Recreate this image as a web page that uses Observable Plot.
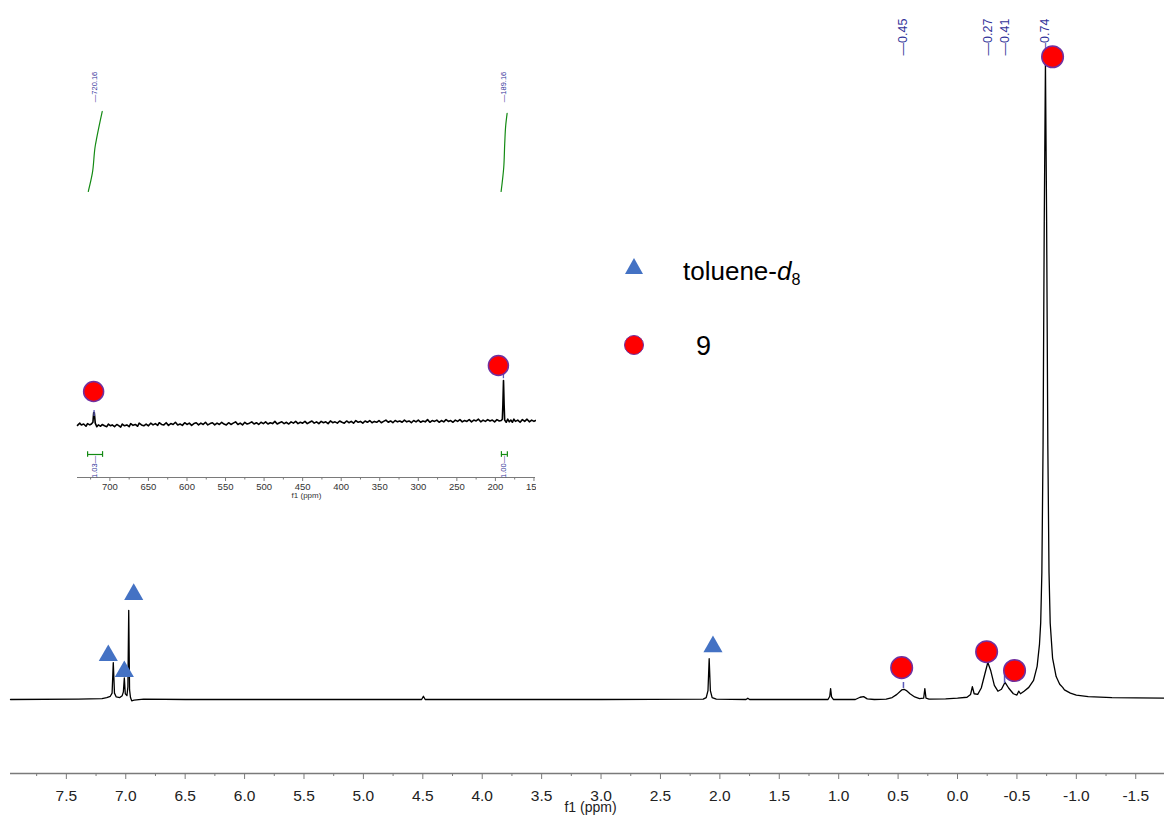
<!DOCTYPE html>
<html><head><meta charset="utf-8">
<script src="https://cdn.jsdelivr.net/npm/d3@7"></script>
<script src="https://cdn.jsdelivr.net/npm/@observablehq/plot@0.6"></script>
<style>
body{margin:0;background:#fff;font-family:"Liberation Sans",Arial,sans-serif;}
#wrap{position:relative;width:1164px;height:816px;overflow:hidden;background:#fff;}
#main{position:absolute;left:0;top:0;}
#inset{position:absolute;left:0;top:0;width:536px;height:500px;overflow:hidden;}
#main svg,#inset svg{max-width:none !important;width:1164px;height:816px;}
.leg{position:absolute;color:#000;font-family:"Liberation Sans",Arial,sans-serif;white-space:nowrap;line-height:1;}
.tri{position:absolute;width:0;height:0;border-left:9.5px solid transparent;border-right:9.5px solid transparent;border-bottom:16px solid #4472c4;}
.circ{position:absolute;width:18px;height:18px;border-radius:50%;background:#ff0000;border:1.5px solid #7030a0;}
sub{font-size:0.62em;vertical-align:baseline;position:relative;top:0.28em;}
</style></head><body>
<div id="wrap">
  <div id="main"></div>
  <div id="inset"></div>
  <div class="tri" style="left:624.5px;top:258px;"></div>
  <div class="leg" style="left:683px;top:258px;font-size:26px;">toluene-<i>d</i><sub>8</sub></div>
  <div class="circ" style="left:624px;top:335px;"></div>
  <div class="leg" style="left:696px;top:333px;font-size:27px;">9</div>
</div>
<script>
// ---------- Main 1H spectrum data (ppm, intensity; tallest peak = 100) ----------
const mainSpectrum = [
  [7.97,0],[7.4,0.05],[7.2,0.15],[7.16,0.3],[7.13,0.5],[7.115,1.0],[7.105,5.8],[7.095,1.0],
  [7.08,0.4],[7.05,0.3],[7.03,0.6],[7.02,1.2],[7.012,3.4],[7.004,0.9],[6.99,0.6],[6.982,2],
  [6.975,14.0],[6.968,1.5],[6.96,0.3],[6.95,-0.2],[6.93,-0.1],[6.85,0.05],[6.5,0],[5.0,0],
  [4.51,0],[4.495,0.5],[4.48,0],[3.0,0],[2.14,0.05],[2.115,0.3],[2.10,1.4],[2.09,6.4],
  [2.08,1.4],[2.065,0.3],[2.03,0.05],[1.78,0],[1.765,0.2],[1.75,0],[1.09,0],[1.075,0.5],
  [1.068,1.7],[1.06,0.4],[1.045,0],[0.86,0],[0.82,0.35],[0.79,0.45],[0.76,0.1],[0.70,0],
  [0.60,0.05],[0.55,0.3],[0.51,0.8],[0.47,1.5],[0.45,1.6],[0.43,1.4],[0.40,0.9],[0.36,0.4],
  [0.32,0.15],[0.285,0.2],[0.275,1.7],[0.265,0.2],[0.24,0.05],[0.10,0.1],[0.0,0.2],
  [-0.08,0.35],[-0.11,0.8],[-0.125,2.0],[-0.14,0.9],[-0.17,0.8],[-0.20,1.8],[-0.23,4.0],
  [-0.255,5.8],[-0.28,4.5],[-0.31,2.2],[-0.34,1.3],[-0.37,1.6],[-0.40,2.7],[-0.43,1.8],
  [-0.47,0.9],[-0.50,0.7],[-0.515,1.3],[-0.53,0.9],[-0.56,1.3],[-0.60,1.9],[-0.64,3.0],
  [-0.67,5.2],[-0.69,8.7],[-0.70,12],[-0.71,20],[-0.72,40],[-0.73,75],[-0.74,100],
  [-0.75,75],[-0.76,40],[-0.77,20],[-0.78,12],[-0.80,6.5],[-0.83,3.6],[-0.86,2.4],
  [-0.885,1.9],[-0.90,1.5],[-0.95,1.0],[-1.0,0.7],[-1.1,0.45],[-1.3,0.3],[-1.5,0.25],[-1.742,0.2]
];
const mainMajorTicks = [7.5,7.0,6.5,6.0,5.5,5.0,4.5,4.0,3.5,3.0,2.5,2.0,1.5,1.0,0.5,0.0,-0.5,-1.0,-1.5];
const mainMinorTicks = [7.75,7.25,6.75,6.25,5.75,5.25,4.75,4.25,3.75,3.25,2.75,2.25,1.75,1.25,0.75,0.25,-0.25,-0.75,-1.25];
const peakLabelPpm = [0.455,-0.26,-0.40,-0.74];
const peakLabelText = ["—0.45","—0.27","—0.41","—0.74"];
const peakTopLevel = 101.1;
const tolueneMarks = [[7.147,6.9],[7.012,4.4],[6.933,16.5],[2.058,8.3]];
const compound9Marks = [[-0.80,100.9],[0.47,5.0],[-0.245,7.5],[-0.48,4.55]];
const mainPickTicks = [[0.455,1.73,2.67],[-0.396,2.5,4.1]];

// ---------- Inset (wide range) data ----------
const insetSpectrum = [
  [742,-2],[739,3],[737,-1],[734,1],[731,-4],[729,2],[726,-1],[724,1],[722,5],[721,27],[720.2,27],[719,3],
  [717,-5],[715,-1],[712,-4],[710,0],[707,-3],[704,-5],[702,1],[699,-3],[697,-1],[694,-5],[691,0],[689,-2],
  [686,-6],[684,1],[681,-3],[678,-1],[675,-5],[673,2],[670,-2],[667,0],[664,-4],[662,3],[659,-1],[656,-3],
  [653,1],[650,-3],[647,3],[644,-1],[641,2],[638,-2],[636,4],[633,0],[630,-1],[627,4],[624,-2],[621,2],
  [618,0],[615,5],[612,-1],[609,1],[606,-2],[603,4],[600,0],[597,3],[594,-2],[591,2],[588,4],[585,-1],
  [582,3],[579,0],[576,5],[573,-1],[570,2],[567,4],[564,-1],[561,3],[558,0],[555,5],[552,1],[549,-1],
  [546,4],[543,0],[540,3],[537,6],[534,0],[531,3],[528,-1],[525,5],[522,1],[519,3],[516,6],[513,1],
  [510,4],[507,0],[504,5],[501,2],[498,6],[495,1],[492,4],[489,2],[486,7],[483,1],[480,4],[477,6],
  [474,2],[471,5],[468,1],[465,6],[462,3],[459,7],[456,2],[453,5],[450,3],[447,7],[444,2],[441,5],
  [438,8],[435,3],[432,6],[429,2],[426,7],[423,4],[420,6],[417,2],[414,8],[411,4],[408,6],[405,3],
  [402,8],[399,5],[396,3],[393,8],[390,4],[387,7],[384,3],[381,9],[378,5],[375,7],[372,3],[369,8],
  [366,5],[363,9],[360,4],[357,7],[354,5],[351,9],[348,4],[345,7],[342,10],[339,5],[336,8],[333,4],
  [330,9],[327,6],[324,8],[321,5],[318,10],[315,6],[312,8],[309,4],[306,9],[303,6],[300,10],[297,5],
  [294,8],[291,6],[288,11],[285,5],[282,9],[279,7],[276,10],[273,5],[270,9],[267,6],[264,11],[261,7],
  [258,9],[255,5],[252,10],[249,7],[246,11],[243,6],[240,9],[237,7],[234,11],[231,6],[228,10],[225,8],
  [222,12],[219,6],[216,10],[213,7],[210,11],[207,8],[204,10],[201,6],[198,11],[195,8],[192.5,9],[191,12],
  [190.3,45],[189.5,100],[188.7,45],[188,10],[186,5],[184,12],[182,6],[180,10],[178,5],[176,12],[174,7],
  [171,10],[168,5],[165,11],[162,7],[159,12],[156,6],[153,10],[150,7],[148,9]
];
const insetMajorTicks = [700,650,600,550,500,450,400,350,300,250,200,150];
const insetMinorTicks = [725,675,625,575,525,475,425,375,325,275,225,175];
const integralCurve1 = [[728.0,529.5],[722.8,570.5],[718.9,634],[717.2,650],[709.9,711.4]];
const integralCurve2 = [[192.6,529.5],[189.2,584],[187.9,639],[186.6,680],[184.8,707]];
const integralRanges = [[728.9,709.5],[192.2,184.5]];
const integralValues = ["1.03—","1.00—"];
const integralLabelPpm = [719.4,189.2];
const integralLevel = -68.2;
const insetPeakPpm = [720.16,189.16];
const insetPeakText = ["—720.16","—189.16"];
const insetPeakLevel = 732.5;
const insetCircles = [[721.1,75],[196.1,134]];
const insetPickTicks = [[720.5,18,32],[189.6,104,118]];

const FONT = '"Liberation Sans", Arial, sans-serif';
const NAVY = "#34349a";
const GREEN = "#138a13";

// ---------- Main plot ----------
const mainY = [-11.62, 109.73];
const mainPlot = Plot.plot({
  width: 1164, height: 816,
  marginLeft: 10, marginRight: 0, marginTop: 0, marginBottom: 43,
  x: {domain: [7.97, -1.742], axis: null},
  y: {domain: mainY, axis: null},
  style: {background: "transparent", fontFamily: FONT, color: "#222", maxWidth: "none"},
  marks: [
    Plot.ruleY([mainY[0]], {stroke: "#7a7a7a", strokeWidth: 1.4}),
    Plot.axisX({ticks: mainMajorTicks, tickSize: 6, tickPadding: 10, tickFormat: d => d.toFixed(1),
      stroke: "#7a7a7a", fill: "#222", fontSize: 15.5, label: null}),
    Plot.axisX({ticks: mainMinorTicks, tickSize: 3, tickFormat: () => "", stroke: "#7a7a7a", label: null}),
    Plot.text(["f1 (ppm)"], {frameAnchor: "bottom", dx: 3, dy: 38, fontSize: 14, fill: "#222"}),
    Plot.line(mainSpectrum, {x: d => d[0], y: d => d[1], stroke: "#000", strokeWidth: 1.3}),
    Plot.ruleX(mainPickTicks, {x: d => d[0], y1: d => d[1], y2: d => d[2], stroke: "#5a5ab8", strokeWidth: 1.5}),
    Plot.text(peakLabelPpm, {x: d => d, y: () => peakTopLevel, text: (d, i) => peakLabelText[i],
      rotate: -90, textAnchor: "start", fontSize: 12.5, fill: NAVY}),
    Plot.dot(tolueneMarks, {x: d => d[0], y: d => d[1], symbol: "triangle", r: 7.1, fill: "#4472c4"}),
    Plot.dot(compound9Marks, {x: d => d[0], y: d => d[1], r: 10.8, fill: "#ff0000", stroke: "#7030a0", strokeWidth: 1.5})
  ]
});
document.getElementById("main").append(mainPlot);

// ---------- Inset plot ----------
const insetY = [-120.5, 963.6];
const insetPlot = Plot.plot({
  width: 1164, height: 816,
  marginLeft: 77, marginRight: 629, marginTop: 0, marginBottom: 339,
  x: {domain: [742, 148], axis: null},
  y: {domain: insetY, axis: null},
  style: {background: "transparent", fontFamily: FONT, color: "#333", maxWidth: "none"},
  marks: [
    Plot.ruleY([insetY[0]], {stroke: "#7a7a7a", strokeWidth: 1.2}),
    Plot.axisX({ticks: insetMajorTicks, tickSize: 4, tickPadding: 2, tickFormat: d => String(d),
      stroke: "#7a7a7a", fill: "#333", fontSize: 9.5, label: null}),
    Plot.axisX({ticks: insetMinorTicks, tickSize: 2.5, tickFormat: () => "", stroke: "#7a7a7a", label: null}),
    Plot.text(["f1 (ppm)"], {frameAnchor: "bottom", dy: 20, fontSize: 8, fill: "#333"}),
    Plot.line(insetSpectrum, {x: d => d[0], y: d => d[1], stroke: "#000", strokeWidth: 1.6}),
    Plot.line(integralCurve1, {x: d => d[0], y: d => d[1], stroke: GREEN, strokeWidth: 1.2, curve: "monotone-y"}),
    Plot.line(integralCurve2, {x: d => d[0], y: d => d[1], stroke: GREEN, strokeWidth: 1.2, curve: "monotone-y"}),
    Plot.ruleY(integralRanges, {x1: d => d[0], x2: d => d[1], y: () => integralLevel, stroke: GREEN, strokeWidth: 1.2}),
    Plot.ruleX(integralRanges.flat(), {x: d => d, y1: () => integralLevel - 6.5, y2: () => integralLevel + 6.5, stroke: GREEN, strokeWidth: 1.2}),
    Plot.text(integralLabelPpm, {x: d => d, y: () => integralLevel - 3, text: (d, i) => integralValues[i],
      rotate: -90, textAnchor: "end", fontSize: 7.5, fill: NAVY}),
    Plot.text(insetPeakPpm, {x: d => d, y: () => insetPeakLevel, text: (d, i) => insetPeakText[i],
      rotate: -90, textAnchor: "start", fontSize: 7.5, fill: NAVY}),
    Plot.ruleX(insetPickTicks, {x: d => d[0], y1: d => d[1], y2: d => d[2], stroke: "#5a5ab8", strokeWidth: 1.3}),
    Plot.dot(insetCircles, {x: d => d[0], y: d => d[1], r: 10, fill: "#ff0000", stroke: "#7030a0", strokeWidth: 1.5})
  ]
});
document.getElementById("inset").append(insetPlot);
</script>
</body></html>
